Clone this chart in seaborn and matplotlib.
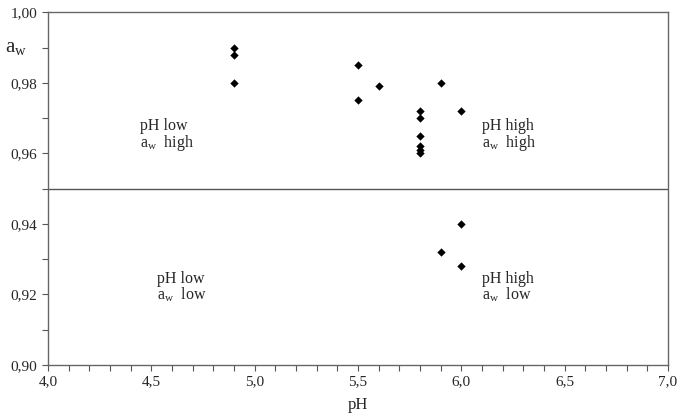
import matplotlib
matplotlib.use("Agg")
import matplotlib.pyplot as plt
import matplotlib.ticker as mticker
import seaborn as sns
import pandas as pd

# data
ph = [4.9, 4.9, 4.9, 5.5, 5.5, 5.6, 5.8, 5.8, 5.8, 5.8, 5.8, 5.8, 5.9, 5.9, 6.0, 6.0, 6.0]
aw = [0.990, 0.988, 0.980, 0.985, 0.975, 0.979, 0.972, 0.970, 0.965, 0.962, 0.961, 0.960,
      0.980, 0.932, 0.972, 0.940, 0.928]
aw_limit = 0.95
ph_words = ["pH low", "pH high", "pH low", "pH high"]
aw_words = ["$\\mathregular{a_w}$  high", "$\\mathregular{a_w}$  high",
            "$\\mathregular{a_w}$  low", "$\\mathregular{a_w}$  low"]
label_x = [4.445, 6.10, 4.53, 6.10]
label_y = [0.9666, 0.9666, 0.9232, 0.9232]
line_gap = 0.0047

df = pd.DataFrame({"pH": ph, "aw": aw})

sns.set_style("white")
plt.rcParams["font.family"] = ["Liberation Serif", "DejaVu Serif"]
plt.rcParams["mathtext.fontset"] = "stix"

fig = plt.figure(figsize=(6.85, 4.16), dpi=100)
ax = fig.add_axes([0.070, 0.1226, 0.905, 0.848])

sns.scatterplot(data=df, x="pH", y="aw", marker="D", color="black", s=18,
                edgecolor="black", linewidth=0, ax=ax, zorder=3)

# limit line between high and low water activity
ax.axhline(aw_limit, color="#555555", linewidth=1.0)

ax.set_xlim(4.0, 7.0)
ax.set_ylim(0.90, 1.00)
ax.xaxis.set_major_locator(mticker.MultipleLocator(0.5))
ax.xaxis.set_minor_locator(mticker.MultipleLocator(0.1))
ax.yaxis.set_major_locator(mticker.MultipleLocator(0.02))
ax.yaxis.set_minor_locator(mticker.MultipleLocator(0.01))
ax.xaxis.set_major_formatter(mticker.FuncFormatter(lambda v, p: f"{v:.1f}".replace(".", ",")))
ax.yaxis.set_major_formatter(mticker.FuncFormatter(lambda v, p: f"{v:.2f}".replace(".", ",")))

ax.tick_params(which="both", direction="out", length=4, width=0.8, color="#555555",
               labelsize=11, bottom=True, left=True)
for side in ax.spines.values():
    side.set_color("#666666")
    side.set_linewidth(1.0)

ax.set_xlabel("pH", fontsize=12, labelpad=6)
ax.set_ylabel("")
fig.text(0.008, 0.885, "$\\mathregular{a_w}$", fontsize=15, ha="left", va="center")

# quadrant labels, two lines each
for w1, w2, x, y in zip(ph_words, aw_words, label_x, label_y):
    ax.text(x, y, w1, fontsize=11.5, ha="left", va="baseline")
    ax.text(x, y - line_gap, w2, fontsize=11.5, ha="left", va="baseline")

fig.savefig("out.png", dpi=100)
